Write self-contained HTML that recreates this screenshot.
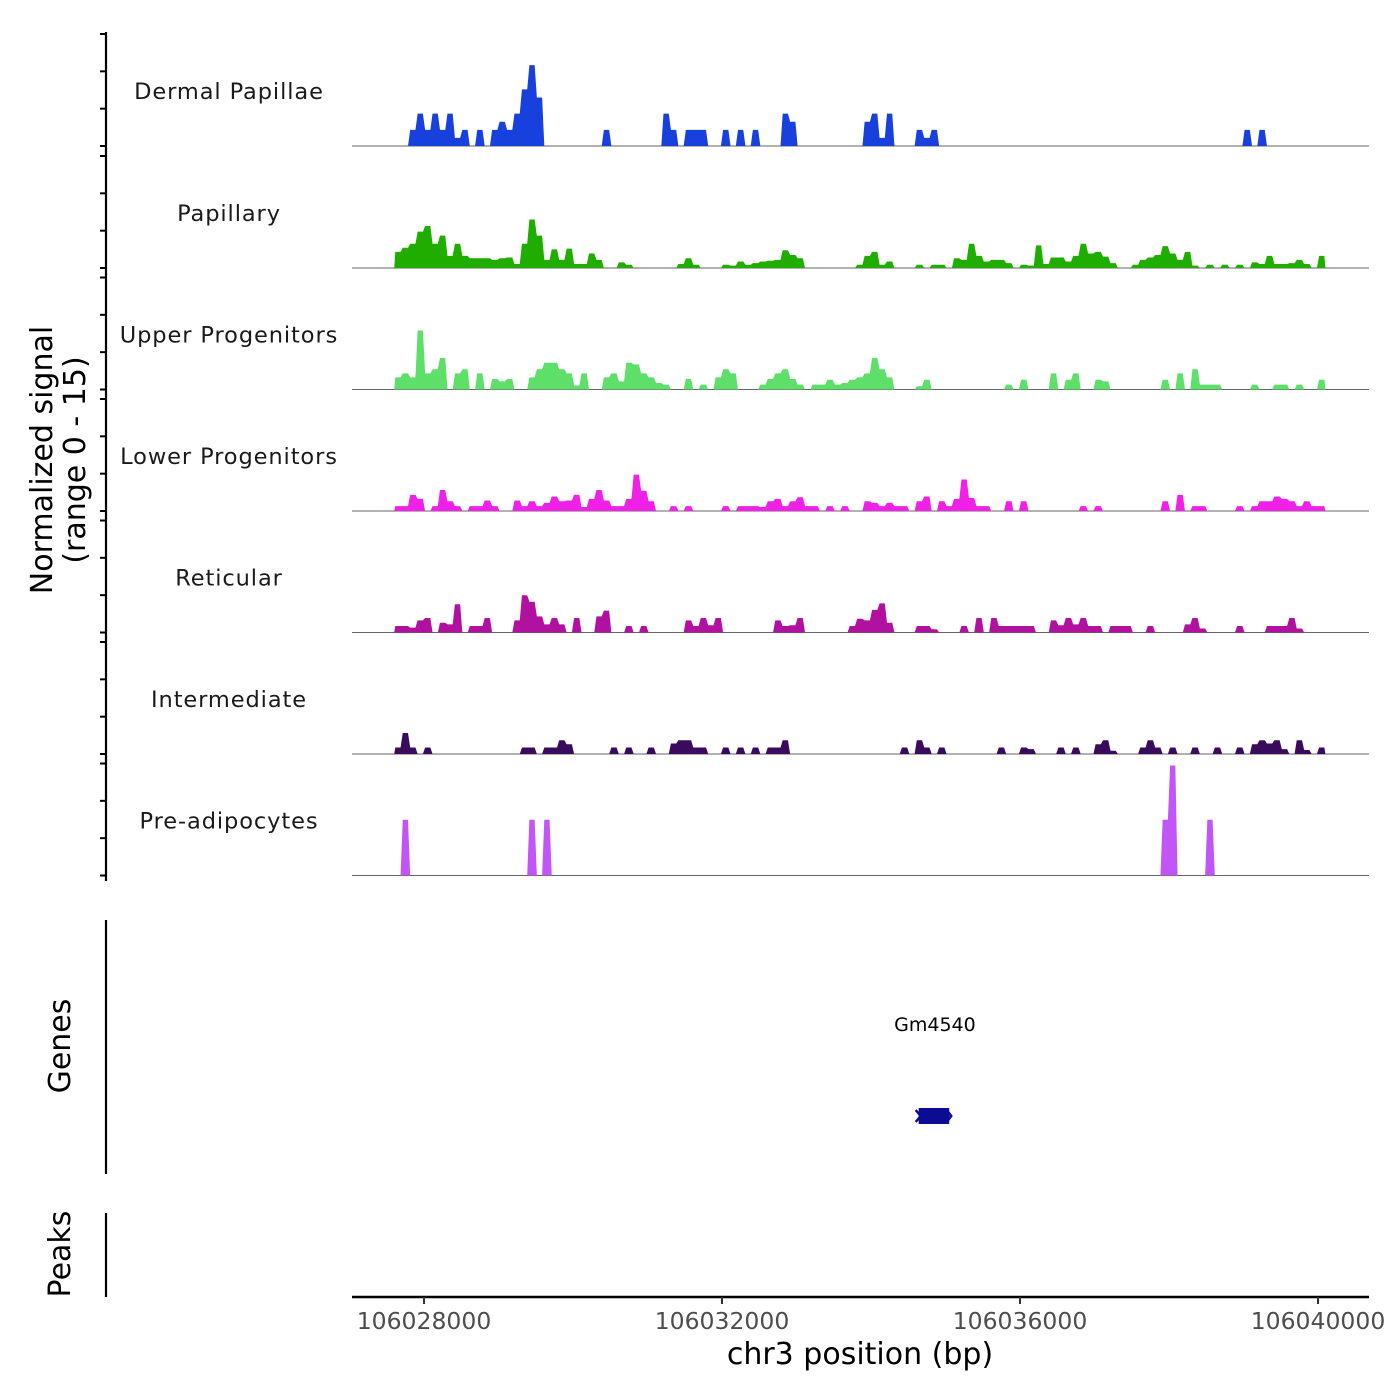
<!DOCTYPE html>
<html><head><meta charset="utf-8"><style>
html,body{margin:0;padding:0;background:#fff;}
svg{display:block;font-family:"DejaVu Sans","Liberation Sans",sans-serif;}
</style></head><body>
<svg id="chart" width="1400" height="1400" viewBox="0 0 1400 1400" xmlns="http://www.w3.org/2000/svg">
<rect width="1400" height="1400" fill="#fff"/>
<g id="tracks"></g>
<g id="yaxis"></g>
<text transform="translate(52,460) rotate(-90)" text-anchor="middle" font-size="30" fill="#000">Normalized signal</text>
<text transform="translate(85,460) rotate(-90)" text-anchor="middle" font-size="30" fill="#000">(range 0 - 15)</text>
<line x1="106" y1="920" x2="106" y2="1174" stroke="#000" stroke-width="2.2"/>
<text transform="translate(70,1046) rotate(-90)" text-anchor="middle" font-size="30" fill="#000">Genes</text>
<line x1="106" y1="1213" x2="106" y2="1297" stroke="#000" stroke-width="2.2"/>
<text transform="translate(70,1254) rotate(-90)" text-anchor="middle" font-size="30" fill="#000">Peaks</text>
<g id="genes"></g>
<g id="xaxis"></g>
<text x="860" y="1364" text-anchor="middle" font-size="30" fill="#000">chr3 position (bp)</text>
</svg>
<script>
// ---- data ----
const binStart = 106027600;
const binSize = 100;
const trackNames = ["Dermal Papillae","Papillary","Upper Progenitors","Lower Progenitors","Reticular","Intermediate","Pre-adipocytes"];
const trackColors = ["#1740dc","#1fae00","#5ddf6a","#f021e6","#b0129f","#3a0a5c","#c155f6"];
const dermalVals = [0,0,2,4,2,4,2,4,1,2,0,2,0,2,3,2,4,7,10,6,0,0,0,0,0,0,0,0,2,0,0,0,0,0,0,0,4,2,0,2,2,2,0,0,2,0,2,0,2,0,0,0,4,3,0,0,0,0,0,0,0,0,0,3,4,1,4,0,0,0,2,1,2,0,0,0,0,0,0,0,0,0,0,0,0,0,0,0,0,0,0,0,0,0,0,0,0,0,0,0,0,0,0,0,0,0,0,0,0,0,0,0,0,0,2,0,2,0,0,0,0,0,0,0,0];
const papillaryVals = [2,2.5,3,4.5,5.2,3,4,1.5,3,1.5,1.2,1.2,1.2,1,1.2,1.3,0.5,3,6,4,1,2.3,1,2.4,0.5,0.5,1.8,1,0,0,0.7,0.4,0,0,0,0,0,0,0.5,1.2,0.4,0,0,0,0.4,0.3,0.8,0.4,0.6,0.8,0.9,1,2.2,1.6,1.2,0,0,0,0,0,0,0,0.4,1.5,2,0.4,0.8,0,0,0,0.4,0,0.4,0.4,0,1.2,1,3,1.5,0.8,1,1,0.6,0,0.4,0.3,2.8,0.5,1.3,1.3,0.8,1.5,3,1.8,2,1.4,0.6,0,0,0.4,1,1.3,1.6,2.7,1.8,1,2,0.3,0,0.4,0,0.4,0,0.4,0,0.7,0.5,1.5,0.5,0.5,0.6,1,0.5,0,1.5];
const upperVals = [1.5,2,1.5,7.3,2,2.5,3.9,0,2,2.5,0,2,0,1.3,1,1.3,0,0,1.5,2.5,3.3,3.3,2.5,2,0.5,2,0,0,1.5,2,1,3.3,3.1,2,1.5,0.8,0.6,0,0,1.3,0,0.6,0,1.5,2.5,2,0,0,0,0.6,1.3,2,2.5,1.3,0.6,0,0.6,0.6,1.2,0.6,0.8,1.2,1.5,2,3.9,2.5,1.5,0,0,0,0.4,1.2,0,0,0,0,0,0,0,0,0,0,0.6,0,1.2,0,0,0,2,0,1.2,2,0,0,1.2,1,0,0,0,0,0,0,0,1.2,0,2,0,2.5,0.6,0.6,0.6,0,0,0,0,0.6,0,0,0.6,0.6,0,0.6,0,0,1.2];
const lowerVals = [0.6,0.6,2,1.5,0,0.6,2.6,1.2,0.6,0,0.6,0.6,1.3,0.6,0,0,1.3,0.6,1.2,0.6,1,1.8,1.2,1.3,2,0.5,1.5,2.6,1.3,0.6,0.6,1.5,4.5,2.5,1.2,0,0,0.6,0,0.6,0,0,0,0,0.6,0,0.6,0.6,0.6,0.5,1.2,1.5,0.6,1.2,1.7,0.6,0.6,0,0.6,0,0.6,0,0,1.2,1,0.6,1,0.6,0.6,0,1.2,1.8,0,1.2,0.6,1.5,3.9,1.6,0.6,0.6,0,0,1.2,0,1.2,0,0,0,0,0,0,0,0.6,0,0.6,0,0,0,0,0,0,0,0,1.2,0,2,0,0.6,0.6,0,0,0,0,0.6,0,0.6,1.2,1.2,1.8,1.5,1.2,0.6,1.2,0.6,0.6];
const reticularVals = [0.8,0.8,0.6,1.5,1.8,0,1.2,1,3.5,0,0.8,0.8,1.8,0,0,0,1.5,4.6,3.8,2,1,1.8,1,0,1.8,0,0,2,2.7,0,0,0.8,0,0.8,0,0,0,0,0,1.5,0.8,1.8,0.9,1.8,0,0,0,0,0,0,0,1.5,0.8,0.9,1.8,0,0,0,0,0,0,0.8,1.7,1.5,2.8,3.6,1.2,0,0,0,0.8,0.8,0.4,0,0,0,0.8,0,1.8,0,1.8,0.8,0.8,0.8,0.8,0.8,0,0,1.5,0.9,1.8,1,1.8,0.8,0.8,0,0.8,0.8,0.8,0,0,0.8,0,0,0,0,1,1.8,0.5,0,0,0,0,0.8,0,0,0,0.8,0.8,0.8,1.8,0.5,0,0,0];
const intermediateVals = [0.8,2.6,0.8,0,0.8,0,0,0,0,0,0,0,0,0,0,0,0,0.8,0.8,0,0.8,0.8,1.7,1.2,0,0,0,0,0,0.8,0,0.8,0,0,0.8,0,0,1.3,1.7,1.7,0.8,0.8,0,0,0.8,0,0.8,0,0.8,0,0.8,0.8,1.7,0,0,0,0,0,0,0,0,0,0,0,0,0,0,0,0.8,0,1.7,0.8,0,0.8,0,0,0,0,0,0,0,0.8,0,0,0.8,0.6,0,0,0,0.8,0,0.8,0,0,1.2,1.7,0.4,0,0,0,0.8,1.7,0.8,0,0.8,0,0,0.8,0,0,0.8,0,0,0.8,0,1.2,1.7,1.3,1.7,0.6,0,1.7,0.5,0,0.8];
const preadipVals = [0,6.9,0,0,0,0,0,0,0,0,0,0,0,0,0,0,0,0,6.9,0,6.9,0,0,0,0,0,0,0,0,0,0,0,0,0,0,0,0,0,0,0,0,0,0,0,0,0,0,0,0,0,0,0,0,0,0,0,0,0,0,0,0,0,0,0,0,0,0,0,0,0,0,0,0,0,0,0,0,0,0,0,0,0,0,0,0,0,0,0,0,0,0,0,0,0,0,0,0,0,0,0,0,0,0,6.9,13.6,0,0,0,0,6.9,0,0,0,0,0,0,0,0,0,0,0,0,0,0,0];
const xTicks = [106028000,106032000,106036000,106040000];
const xTickLabels = ["106028000","106032000","106036000","106040000"];
const geneNames = ["Gm4540"];
const geneStarts = [106034640];
const geneEnds = [106035050];

const allVals = [dermalVals,papillaryVals,upperVals,lowerVals,reticularVals,intermediateVals,preadipVals];
// ---- scales ----
const NS = "http://www.w3.org/2000/svg";
function xScale(bp){ return 424 + (bp - 106028000) * 298 / 4000; }
const baselines = [146,268,389.5,511,632.5,754,875.5];
const trackH = 112, yMax = 13.85;
function yScale(v, t){ return baselines[t] - v / yMax * trackH; }
function mk(tag, attrs, parent){ const e = document.createElementNS(NS, tag); for (const k in attrs) e.setAttribute(k, attrs[k]); parent.appendChild(e); return e; }

const tracks = document.getElementById('tracks');
allVals.forEach((vals, t) => {
  const g = mk('g', {}, tracks);
  
  
  const lab = mk('text', {x:229, y: baselines[t] - 47, 'text-anchor':'middle', 'font-size':22.5, fill:'#1a1a1a', 'letter-spacing':'0.9'}, g);
  lab.textContent = trackNames[t];
  
  
  const base = mk('line', {x1:352, x2:1369, y1:baselines[t], y2:baselines[t], stroke:'#666', 'stroke-width':1}, g);
  
  
  let pts = [];
  const b = baselines[t];
  vals.forEach((v, i) => {
    const xl = xScale(binStart + i * binSize), xr = xScale(binStart + (i + 1) * binSize);
    const y = yScale(v, t);
    pts.push((xl + 1.1).toFixed(2) + ',' + y.toFixed(2));
    pts.push((xr - 1.1).toFixed(2) + ',' + y.toFixed(2));
  });
  const x0 = xScale(binStart), x1 = xScale(binStart + vals.length * binSize);
  const area = mk('polygon', {points: x0 + ',' + b + ' ' + pts.join(' ') + ' ' + x1 + ',' + b, fill: trackColors[t]}, g);
  
  
});

// y axis with ticks (0,5,10,15 per track)
const ya = document.getElementById('yaxis');
mk('line', {x1:106, x2:106, y1:32, y2:881, stroke:'#000', 'stroke-width':2.2}, ya);
baselines.forEach((b, t) => {
  [0,5,10,15].forEach(v => {
    const y = b - v / 15 * trackH;
    const tk = mk('line', {x1:100, x2:106, y1:y, y2:y, stroke:'#000', 'stroke-width':2}, ya);
    
    
  });
});

// genes
const gg = document.getElementById('genes');
geneNames.forEach((n, i) => {
  const xs = xScale(geneStarts[i]), xe = xScale(geneEnds[i]);
  const t = mk('text', {x:(xs + xe) / 2 + 1, y:1031, 'text-anchor':'middle', 'font-size':19, fill:'#000'}, gg);
  t.textContent = n;
  
  
  const r = mk('rect', {x:xs, y:1108, width:xe - xs, height:16, fill:'#0b0b94'}, gg);
  
  
  const a = mk('path', {d:'M' + (xs - 3) + ',1110 L' + (xs + 2) + ',1116 L' + (xs - 3) + ',1122 M' + (xe - 1) + ',1112 L' + (xe + 2) + ',1116 L' + (xe - 1) + ',1120', stroke:'#0b0b94', 'stroke-width':2.5, fill:'none'}, gg);
  
  
});

// x axis
const xa = document.getElementById('xaxis');
mk('line', {x1:352, x2:1369, y1:1297, y2:1297, stroke:'#000', 'stroke-width':2.4}, xa);
xTicks.forEach((v, i) => {
  const x = xScale(v);
  const tk = mk('line', {x1:x, x2:x, y1:1297, y2:1304, stroke:'#333', 'stroke-width':2}, xa);
  
  
  const lb = mk('text', {x:x, y:1329, 'text-anchor':'middle', 'font-size':23.5, fill:'#4d4d4d'}, xa);
  lb.textContent = xTickLabels[i];
  
  
});
</script>
</body></html>
